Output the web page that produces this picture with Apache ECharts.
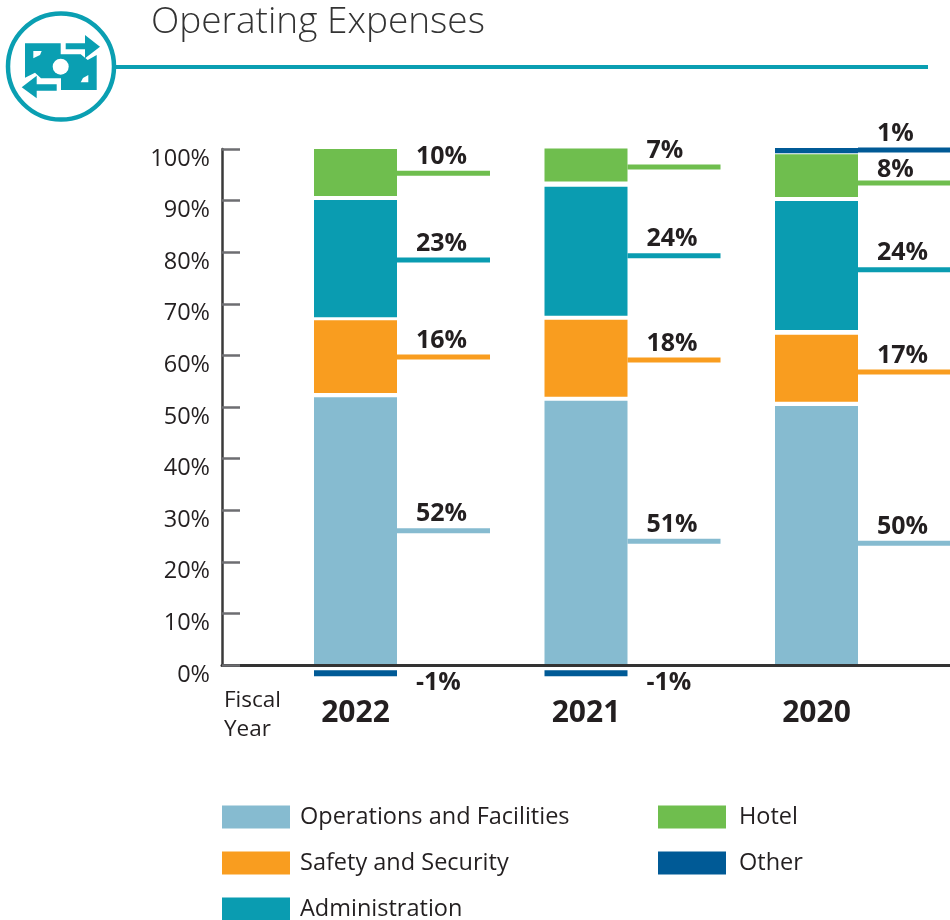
<!DOCTYPE html>
<html><head><meta charset="utf-8">
<style>html,body{margin:0;padding:0;background:#fff}#c{width:950px;height:920px}</style>
<script src="https://cdn.jsdelivr.net/npm/echarts@6/dist/echarts.min.js"></script>
</head><body><div id="c"></div>
<script>
const years = ['2022', '2021', '2020'];
const yTicks = ['0%','10%','20%','30%','40%','50%','60%','70%','80%','90%','100%'];
// drawn segment heights (percentage points)
const operations = [51.9, 51.2, 50.2];
const safety = [14.1, 14.9, 13.0];
const administration = [22.7, 25.0, 25.0];
const hotel = [9.1, 6.4, 8.3];
const other = [-1.2, -1.2, 1.0];
// white gaps between segments
const gap1 = [0.8, 0.8, 0.8];
const gap2 = [0.6, 0.8, 0.9];
const gap3 = [0.8, 1.0, 0.8];
const gap4 = [-1.0, -1.0, 0.2];
// leader line heights and their printed labels
const operationsLeader = [26.0, 24.0, 23.6];
const safetyLeader = [59.7, 59.1, 56.8];
const administrationLeader = [78.5, 79.3, 76.6];
const hotelLeader = [95.3, 96.5, 93.4];
const otherLeader = [-6.6, -6.6, 99.8];
const operationsLabels = ['52%', '51%', '50%'];
const safetyLabels = ['16%', '18%', '17%'];
const administrationLabels = ['23%', '24%', '24%'];
const hotelLabels = ['10%', '7%', '8%'];
const otherLabels = ['-1%', '-1%', '1%'];

const C = {ops:'#86bbd0', saf:'#f99d1f', adm:'#0a9cb1', hot:'#6fbe4e', oth:'#005a96'};
const TEAL = '#0a9fb2', INK = '#231f20', FONT = '"Open Sans", sans-serif';

function barSeries(name, data, color) {
  return {name, type:'bar', stack:'t', data, barWidth:83, xAxisIndex:0, yAxisIndex:0,
    itemStyle:{color}, emphasis:{disabled:true}, z:1};
}
function gapSeries(name, data) {
  return {name, type:'bar', stack:'t', data, barWidth:83, xAxisIndex:0, yAxisIndex:0,
    itemStyle:{color:'rgba(0,0,0,0)'}, silent:true, z:1};
}
function leaderSeries(name, values, labels, color, drop) {
  return {
    name, type:'custom', xAxisIndex:0, yAxisIndex:0, silent:true, z:4, clip:false,
    data: values.map((v,i)=>[i, v, labels[i]]),
    encode:{x:0, y:1},
    renderItem(params, api){
      const p = api.coord([api.value(0), api.value(1)]);
      const x0 = p[0] + 41.5;
      const children = [];
      if (api.value(1) > 0) {
        children.push({type:'rect', shape:{x:x0, y:p[1]-2.5, width:93, height:5}, style:{fill:color}});
      }
      const d = drop ? drop[params.dataIndex] : 0;
      children.push({type:'text', x:x0+19, y:p[1]-16.5+d, style:{
        text:labels[params.dataIndex], fill:INK, font:'bold 25px '+FONT,
        textAlign:'left', textVerticalAlign:'middle'}});
      return {type:'group', children};
    }
  };
}
const OPS='Operations and Facilities', SAF='Safety and Security', ADM='Administration', HOT='Hotel', OTH='Other';
const legendBase = {orient:'vertical', top:805, padding:0, itemWidth:68, itemHeight:23, itemGap:22,
  icon:'rect', selectedMode:false};
const legendText = (pad)=>({color:INK, fontFamily:FONT, fontSize:23.5, lineHeight:23, padding:[0,0,0,pad]});

const chart = echarts.init(document.getElementById('c'), null, {renderer:'canvas'});
chart.setOption({
  animation:false,
  backgroundColor:'#fff',
  title:[
    {text:'Operating Expenses', left:151, top:4, padding:0, textStyle:{color:'#333', fontFamily:FONT, fontWeight:300, fontSize:37}},
    {text:'Fiscal\nYear', left:224, top:686, padding:0, textStyle:{color:INK, fontFamily:FONT, fontWeight:'normal', fontSize:22.5, lineHeight:29}}
  ],
  legend:[
    Object.assign({}, legendBase, {left:222, data:[OPS, SAF], textStyle:legendText(5)}),
    Object.assign({}, legendBase, {left:222, top:897, data:[ADM], textStyle:legendText(5)}),
    Object.assign({}, legendBase, {left:658, data:[HOT, OTH], textStyle:legendText(8)})
  ],
  grid:[
    {left:240.25, width:691.5, top:97.4, height:619.2},
    {left:222, right:0, top:149, height:516}
  ],
  xAxis:[
    {gridIndex:0, type:'category', data:years, axisLine:{show:false}, axisTick:{show:false},
      axisLabel:{color:INK, fontFamily:FONT, fontWeight:'bold', fontSize:30, margin:-18}},
    {gridIndex:1, type:'category', data:years, z:10, axisLine:{onZero:false, lineStyle:{color:'#333333', width:3}}, axisTick:{show:false}, axisLabel:{show:false}}
  ],
  yAxis:[
    {gridIndex:0, type:'value', min:-10, max:110, show:false, splitLine:{show:false}},
    {gridIndex:1, type:'value', min:0, max:100, interval:10, z:10,
      axisLine:{show:true, onZero:false, lineStyle:{color:'#3a3a3a', width:2.5}},
      axisTick:{show:true, inside:true, length:18, lineStyle:{color:'#6d6e71', width:2.5}},
      splitLine:{show:false},
      axisLabel:{color:INK, fontFamily:FONT, fontSize:23.5, margin:12, verticalAlign:'top', lineHeight:20,
        formatter:(v)=>yTicks[Math.round(v/10)]}}
  ],
  series:[
    barSeries(OPS, operations, C.ops), gapSeries('gap1', gap1),
    barSeries(SAF, safety, C.saf), gapSeries('gap2', gap2),
    barSeries(ADM, administration, C.adm), gapSeries('gap3', gap3),
    barSeries(HOT, hotel, C.hot), gapSeries('gap4', gap4),
    barSeries(OTH, other, C.oth),
    leaderSeries('ops leader', operationsLeader, operationsLabels, C.ops),
    leaderSeries('safety leader', safetyLeader, safetyLabels, C.saf),
    leaderSeries('admin leader', administrationLeader, administrationLabels, C.adm),
    leaderSeries('hotel leader', hotelLeader, hotelLabels, C.hot, [0,0,3.5]),
    leaderSeries('other leader', otherLeader, otherLabels, C.oth)
  ],
  graphic:[
    {type:'line', shape:{x1:115, y1:67, x2:928, y2:67}, style:{stroke:TEAL, lineWidth:4}},
    {type:'circle', shape:{cx:61, cy:66.5, r:53}, style:{fill:'#fff', stroke:TEAL, lineWidth:4.5}},
    {type:'polygon', shape:{points:[[25,43.3],[60.7,43.3],[60.7,54.3],[80.7,54.3],[87.7,60],[96.7,55],[96.7,90],[61,90],[61,78.3],[41,78.3],[35,72.7],[25,77.7]]}, style:{fill:TEAL}},
    {type:'polygon', shape:{points:[[65.7,43.3],[85,43.3],[85,35],[100,46.7],[85,58.3],[85,49.3],[65.7,49.3]]}, style:{fill:TEAL}},
    {type:'polygon', shape:{points:[[56.7,84.3],[36.7,84.3],[36.7,75.7],[21.7,87.3],[36.7,98.3],[36.7,90.7],[56.7,90.7]]}, style:{fill:TEAL}},
    {type:'circle', shape:{cx:60.7, cy:66.7, r:8}, style:{fill:'#fff'}},
    {type:'polygon', shape:{points:[[33.3,51],[41.7,51],[40,55],[33.3,58.3]]}, style:{fill:'#fff'}},
    {type:'polygon', shape:{points:[[88.3,75],[88.3,82.3],[80.7,82.3],[83,78]]}, style:{fill:'#fff'}}
  ]
});
</script></body></html>
